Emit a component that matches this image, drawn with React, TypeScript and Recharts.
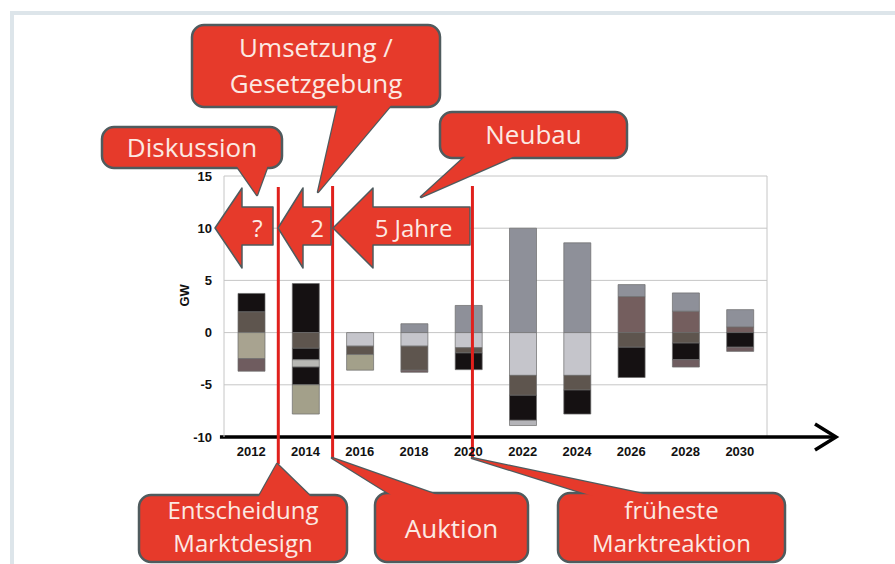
import React from 'react';
import { BarChart, Bar, XAxis, YAxis, CartesianGrid, ReferenceLine } from 'recharts';

// years shown on the axis (one bar per year)
const years = [2012, 2014, 2016, 2018, 2020, 2022, 2024, 2026, 2028, 2030];
const yTicks = [-10, -5, 0, 5, 10, 15];

// positive parts, stacked upward from 0 in this order
const posBrown = [2.0, 0, 0, 0, 0, 0, 0, 0, 0, 0];
const posMauve = [0, 0, 0, 0, 0, 0, 0, 3.45, 2.05, 0.55];
const posBlack = [1.75, 4.7, 0, 0, 0, 0, 0, 0, 0, 0];
const posGray = [0, 0, 0, 0.85, 2.6, 10, 8.6, 1.15, 1.75, 1.65];

// negative parts, stacked downward from 0 in this order
const negLight = [0, 0, -1.3, -1.3, -1.45, -4.1, -4.1, 0, 0, 0];
const negKhaki = [-2.5, 0, 0, 0, 0, 0, 0, 0, 0, 0];
const negBrown = [0, -1.5, -0.8, -2.3, -0.5, -1.9, -1.4, -1.4, -1.0, 0];
const negBlack = [0, -1.1, 0, 0, -1.6, -2.4, -2.3, -2.9, -1.6, -1.4];
const negSilver = [0, -0.7, 0, 0, 0, 0, 0, 0, 0, 0];
const negBlack2 = [0, -1.7, 0, 0, 0, 0, 0, 0, 0, 0];
const negSand = [0, -2.8, -1.5, 0, 0, 0, 0, 0, 0, 0];
const negMauve = [-1.2, 0, 0, -0.2, 0, 0, 0, 0, -0.7, -0.4];
const negPale = [0, 0, 0, 0, 0, -0.5, 0, 0, 0, 0];

// phase boundaries (years) drawn as red lines
const decisionYear = 2013;
const auctionYear = 2015;
const reactionYear = 2020.15;

const series = [
    { key: 'posBrown', values: posBrown, color: '#5e554e' },
    { key: 'posMauve', values: posMauve, color: '#745e5e' },
    { key: 'posBlack', values: posBlack, color: '#151112' },
    { key: 'posGray', values: posGray, color: '#8e9099' },
    { key: 'negLight', values: negLight, color: '#c5c5cb' },
    { key: 'negKhaki', values: negKhaki, color: '#a8a390' },
    { key: 'negBrown', values: negBrown, color: '#5e554e' },
    { key: 'negBlack', values: negBlack, color: '#151112' },
    { key: 'negSilver', values: negSilver, color: '#b8b8b4' },
    { key: 'negBlack2', values: negBlack2, color: '#151112' },
    { key: 'negSand', values: negSand, color: '#a3a08a' },
    { key: 'negMauve', values: negMauve, color: '#6f5c5f' },
    { key: 'negPale', values: negPale, color: '#b4b4b8' },
];

const data = years.map((year, i) => {
    const row: Record<string, number> = { year };
    series.forEach(s => { row[s.key] = s.values[i]; });
    return row;
});

const RED = '#e63a2b';
const EDGE = '#4f5b5e';
const TXT = '#fce9e3';
const FONT = '"Open Sans", sans-serif';
const axisFont = { fontFamily: '"Liberation Sans", Arial, sans-serif', fontSize: 13, fontWeight: 700, fill: '#111' };

// callout: rounded box plus a pointed tail
function Callout({ x, y, w, h, tail, lines, size = 26, lineGap = 30, baseY }: {
    x: number, y: number, w: number, h: number, tail: number[][], lines: string[], size?: number, lineGap?: number, baseY: number
}) {
    const pts = tail.map(p => p.join(',')).join(' ');
    return (
        <g>
            <polygon points={pts} fill={RED} stroke={EDGE} strokeWidth={2.5} strokeLinejoin="round" />
            <rect x={x} y={y} width={w} height={h} rx={12} fill={RED} stroke={EDGE} strokeWidth={2.5} />
            <polygon points={pts} fill={RED} />
            {lines.map((t, i) => (
                <text key={t} x={x + w / 2} y={baseY + i * lineGap} textAnchor="middle"
                    fontFamily={FONT} fontSize={size} fill={TXT}>{t}</text>
            ))}
        </g>
    );
}

// left-pointing block arrow
function LeftArrow({ tip, head, right, yc, label }: { tip: number, head: number, right: number, yc: number, label: string }) {
    const p = [
        [tip, yc], [head, yc - 40], [head, yc - 21], [right, yc - 21],
        [right, yc + 17], [head, yc + 17], [head, yc + 40],
    ].map(q => q.join(',')).join(' ');
    return (
        <g>
            <polygon points={p} fill={RED} stroke={EDGE} strokeWidth={1.5} strokeLinejoin="round" />
            <text x={(head + right) / 2 + (label.length > 2 ? -8 : 0)} y={yc + 9} textAnchor="middle"
                fontFamily={FONT} fontSize={24} fill={TXT}>{label}</text>
        </g>
    );
}

export default function App() {
    return (
        <div style={{ position: 'absolute', left: 0, top: 0, width: 895, height: 564, overflow: 'hidden', background: '#fff' }}>
            <div style={{ position: 'absolute', left: 10, top: 11, width: 900, height: 600, border: '4px solid #dde5ea' }} />
            <div style={{ position: 'absolute', left: 0, top: 0 }}>
                <BarChart width={895} height={564} data={data} stackOffset="sign" barSize={27}
                    margin={{ top: 176, right: 128, bottom: 97, left: 164 }}>
                    <CartesianGrid vertical={false} stroke="#c6c6c6" />
                    <XAxis type="number" dataKey="year" domain={[2011, 2031]} ticks={years} interval={0}
                        axisLine={false} tickLine={false} tickSize={0} tickMargin={10} tick={axisFont} height={30} />
                    <YAxis domain={[-10, 15]} ticks={yTicks} interval={0} width={60}
                        axisLine={{ stroke: '#c6c6c6' }} tickLine={false} tickSize={0} tickMargin={12} tick={axisFont}
                        label={{ value: 'GW', angle: -90, position: 'insideLeft', offset: 20, style: axisFont }} />
                    <ReferenceLine x={2031} stroke="#c6c6c6" />
                    {series.map(s => (
                        <Bar key={s.key} dataKey={s.key} stackId="a" fill={s.color}
                            stroke="#6b6b6b" strokeWidth={0.7} isAnimationActive={false} />
                    ))}
                    <ReferenceLine segment={[{ x: 2010.85, y: -10 }, { x: 2033.5, y: -10 }]} ifOverflow="visible"
                        stroke="#000" strokeWidth={3.5} />
                    <ReferenceLine segment={[{ x: decisionYear, y: 13.95 }, { x: decisionYear, y: -12.6 }]}
                        ifOverflow="visible" stroke="#e0201c" strokeWidth={3} />
                    <ReferenceLine segment={[{ x: auctionYear, y: 14.05 }, { x: auctionYear, y: -12.0 }]}
                        ifOverflow="visible" stroke="#e0201c" strokeWidth={3} />
                    <ReferenceLine segment={[{ x: reactionYear, y: 14.05 }, { x: reactionYear, y: -12.0 }]}
                        ifOverflow="visible" stroke="#e0201c" strokeWidth={3} />
                </BarChart>
            </div>
            <svg width={895} height={564} style={{ position: 'absolute', left: 0, top: 0, pointerEvents: 'none' }}>
                <path d="M815,424 L836,437 L815,450" fill="none" stroke="#000" strokeWidth={3.5} />
                <LeftArrow tip={215} head={242} right={273} yc={228} label="?" />
                <LeftArrow tip={278} head={303} right={331} yc={228} label="2" />
                <LeftArrow tip={333} head={373} right={470} yc={228} label="5 Jahre" />
                <Callout x={192} y={25} w={248} h={82} tail={[[338, 104], [318, 192], [392, 104]]}
                    lines={['Umsetzung /', 'Gesetzgebung']} baseY={57} lineGap={36} />
                <Callout x={102} y={127} w={180} h={41} tail={[[236, 165], [257, 195], [268, 165]]}
                    lines={['Diskussion']} baseY={157} />
                <Callout x={440} y={112} w={187} h={46} tail={[[467, 155], [421, 197], [517, 155]]}
                    lines={['Neubau']} baseY={144} />
                <Callout x={139} y={495} w={208} h={67} tail={[[258, 498], [277, 464], [312, 498]]}
                    lines={['Entscheidung', 'Marktdesign']} baseY={519} lineGap={33} size={24} />
                <Callout x={375} y={493} w={153} h={69} tail={[[393, 496], [332, 458], [440, 496]]}
                    lines={['Auktion']} baseY={538} />
                <Callout x={558} y={493} w={227} h={69} tail={[[593, 496], [472, 458], [653, 496]]}
                    lines={['früheste', 'Marktreaktion']} baseY={519} lineGap={33} size={24} />
            </svg>
        </div>
    );
}
